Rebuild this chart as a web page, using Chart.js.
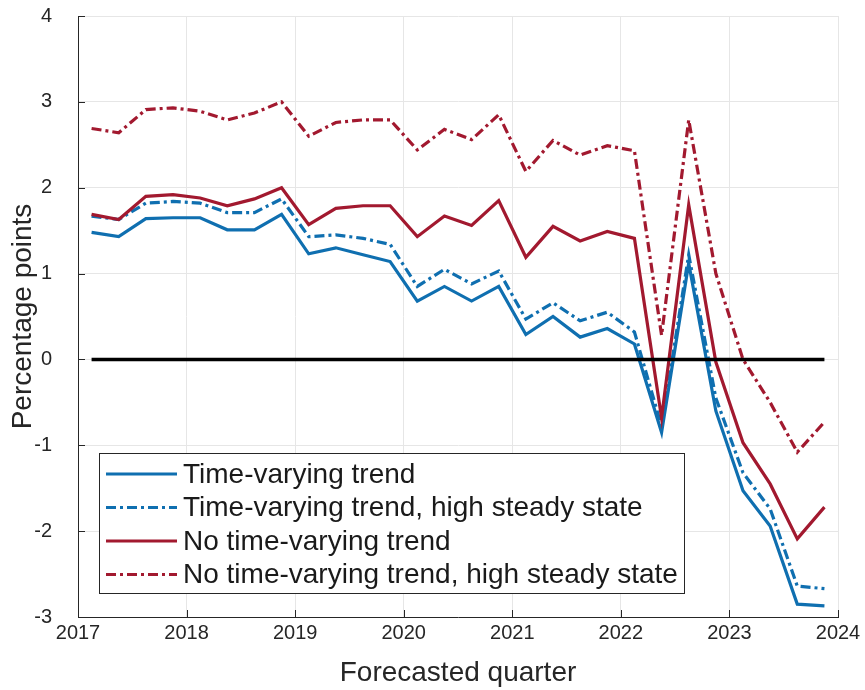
<!DOCTYPE html>
<html>
<head>
<meta charset="utf-8">
<script src="https://cdn.jsdelivr.net/npm/chart.js@4.4.1/dist/chart.umd.min.js"></script>
<style>
  html, body { margin: 0; padding: 0; background: #fff; }
  #wrap { width: 865px; height: 690px; }
</style>
</head>
<body>
<div id="wrap"><canvas id="chart" width="865" height="690"></canvas></div>
<script>
// forecasted quarters, plotted at mid-quarter (decimal years)
const quarters = [
  2017.125, 2017.375, 2017.625, 2017.875,
  2018.125, 2018.375, 2018.625, 2018.875,
  2019.125, 2019.375, 2019.625, 2019.875,
  2020.125, 2020.375, 2020.625, 2020.875,
  2021.125, 2021.375, 2021.625, 2021.875,
  2022.125, 2022.375, 2022.625, 2022.875,
  2023.125, 2023.375, 2023.625, 2023.875
];

const tvTrend = [
  1.48, 1.43, 1.64, 1.65, 1.65, 1.51, 1.51, 1.69,
  1.23, 1.30, 1.22, 1.14, 0.68, 0.85, 0.68, 0.85,
  0.29, 0.50, 0.26, 0.36, 0.18, -0.85, 1.12, -0.60,
  -1.53, -1.94, -2.85, -2.87
];

const tvTrendHigh = [
  1.67, 1.63, 1.82, 1.84, 1.82, 1.71, 1.71, 1.87,
  1.43, 1.45, 1.41, 1.34, 0.85, 1.05, 0.88, 1.03,
  0.47, 0.66, 0.45, 0.55, 0.32, -0.78, 1.22, -0.45,
  -1.32, -1.74, -2.64, -2.67
];

const noTrend = [
  1.69, 1.63, 1.90, 1.92, 1.88, 1.79, 1.87, 2.00,
  1.57, 1.76, 1.79, 1.79, 1.43, 1.67, 1.56, 1.85,
  1.19, 1.55, 1.38, 1.49, 1.41, -0.68, 1.80, -0.03,
  -0.97, -1.45, -2.09, -1.72
];

const noTrendHigh = [
  2.69, 2.64, 2.91, 2.93, 2.89, 2.79, 2.87, 3.00,
  2.60, 2.76, 2.79, 2.79, 2.44, 2.68, 2.56, 2.85,
  2.19, 2.55, 2.38, 2.49, 2.43, 0.28, 2.79, 1.00,
  0.00, -0.50, -1.08, -0.73
];

const seriesLabels = [
  'Time-varying trend',
  'Time-varying trend, high steady state',
  'No time-varying trend',
  'No time-varying trend, high steady state'
];

const xTicks = [2017, 2018, 2019, 2020, 2021, 2022, 2023, 2024];
const yTicks = [-3, -2, -1, 0, 1, 2, 3, 4];

const BLUE = '#0f6fb0';
const RED = '#a2192f';
const DASHDOT = [10, 4, 3, 4];
const FONT = "'Liberation Sans', Arial, Helvetica, sans-serif";

function toPoints(values) {
  return quarters.map((q, i) => ({ x: q, y: values[i] }));
}

// legend drawn inside the axes, MATLAB style
const boxLegend = {
  id: 'boxLegend',
  afterDatasetsDraw(chart) {
    const ctx = chart.ctx;
    const area = chart.chartArea;
    const left = area.left + 21;
    const top = area.bottom - 164;
    const width = 585;
    const height = 140;
    const rowH = 33.5;

    ctx.save();
    ctx.fillStyle = '#fff';
    ctx.fillRect(left, top, width, height);
    ctx.strokeStyle = '#262626';
    ctx.lineWidth = 1;
    ctx.strokeRect(left + 0.5, top + 0.5, width, height);

    ctx.font = '28px ' + FONT;
    ctx.textBaseline = 'middle';
    ctx.textAlign = 'left';

    chart.data.datasets
      .filter(d => d.legendRow !== undefined)
      .sort((a, b) => a.legendRow - b.legendRow)
      .forEach((ds, i) => {
        const y = top + 21 + i * rowH;
        ctx.beginPath();
        ctx.strokeStyle = ds.borderColor;
        ctx.lineWidth = ds.borderWidth;
        ctx.setLineDash(ds.borderDash || []);
        ctx.moveTo(left + 7, y);
        ctx.lineTo(left + 78, y);
        ctx.stroke();
        ctx.setLineDash([]);
        ctx.fillStyle = '#1a1a1a';
        ctx.fillText(ds.label, left + 84, y + 1);
      });
    ctx.restore();
  }
};

// inward tick marks on the left and bottom axes
const innerTicks = {
  id: 'innerTicks',
  afterDraw(chart) {
    const ctx = chart.ctx;
    const area = chart.chartArea;
    const xs = chart.scales.x;
    const ys = chart.scales.y;
    ctx.save();
    ctx.strokeStyle = '#262626';
    ctx.lineWidth = 1;
    ctx.beginPath();
    xTicks.forEach(v => {
      const px = Math.round(xs.getPixelForValue(v)) + 0.5;
      ctx.moveTo(px, area.bottom);
      ctx.lineTo(px, area.bottom - 7);
    });
    yTicks.forEach(v => {
      const py = Math.round(ys.getPixelForValue(v)) + 0.5;
      ctx.moveTo(area.left, py);
      ctx.lineTo(area.left + 7, py);
    });
    ctx.stroke();
    ctx.restore();
  }
};

const ctx = document.getElementById('chart');

new Chart(ctx, {
  type: 'line',
  data: {
    datasets: [
      {
        label: 'zero',
        data: [{ x: quarters[0], y: 0 }, { x: quarters[quarters.length - 1], y: 0 }],
        borderColor: '#000',
        borderWidth: 3.5,
        order: 0
      },
      {
        label: seriesLabels[3],
        data: toPoints(noTrendHigh),
        borderColor: RED,
        borderWidth: 3.2,
        borderDash: DASHDOT,
        legendRow: 3,
        order: 1
      },
      {
        label: seriesLabels[2],
        data: toPoints(noTrend),
        borderColor: RED,
        borderWidth: 3.2,
        legendRow: 2,
        order: 2
      },
      {
        label: seriesLabels[1],
        data: toPoints(tvTrendHigh),
        borderColor: BLUE,
        borderWidth: 3.2,
        borderDash: DASHDOT,
        legendRow: 1,
        order: 3
      },
      {
        label: seriesLabels[0],
        data: toPoints(tvTrend),
        borderColor: BLUE,
        borderWidth: 3.2,
        legendRow: 0,
        order: 4
      }
    ].map(d => Object.assign({ pointRadius: 0, tension: 0, fill: false }, d))
  },
  options: {
    responsive: false,
    animation: false,
    layout: {
      padding: { top: 16, right: 27, left: 6, bottom: 0 }
    },
    plugins: {
      legend: { display: false },
      tooltip: { enabled: false }
    },
    scales: {
      x: {
        type: 'linear',
        min: 2017,
        max: 2024,
        afterBuildTicks: (scale) => {
          scale.ticks = xTicks.map(v => ({ value: v }));
        },
        afterFit: (scale) => { scale.height = 73; },
        ticks: {
          callback: (v) => String(v),
          color: '#262626',
          font: { family: FONT, size: 20 },
          padding: 4,
          maxRotation: 0
        },
        grid: {
          color: '#e6e6e6',
          drawTicks: false
        },
        border: { color: '#262626', width: 1 },
        title: {
          display: true,
          text: 'Forecasted quarter',
          color: '#262626',
          font: { family: FONT, size: 28 },
          padding: { top: 0, bottom: 0 }
        }
      },
      y: {
        min: -3,
        max: 4,
        afterBuildTicks: (scale) => {
          scale.ticks = yTicks.map(v => ({ value: v }));
        },
        afterFit: (scale) => { scale.width = 72; },
        ticks: {
          color: '#262626',
          font: { family: FONT, size: 20 },
          padding: 4
        },
        grid: {
          color: '#e6e6e6',
          drawTicks: true,
          tickLength: 22,
          tickColor: 'rgba(0,0,0,0)'
        },
        border: { color: '#262626', width: 1 },
        title: {
          display: true,
          text: 'Percentage points',
          color: '#262626',
          font: { family: FONT, size: 28 },
          padding: { top: 0, bottom: 0 }
        }
      }
    }
  },
  plugins: [boxLegend, innerTicks]
});
</script>
</body>
</html>
